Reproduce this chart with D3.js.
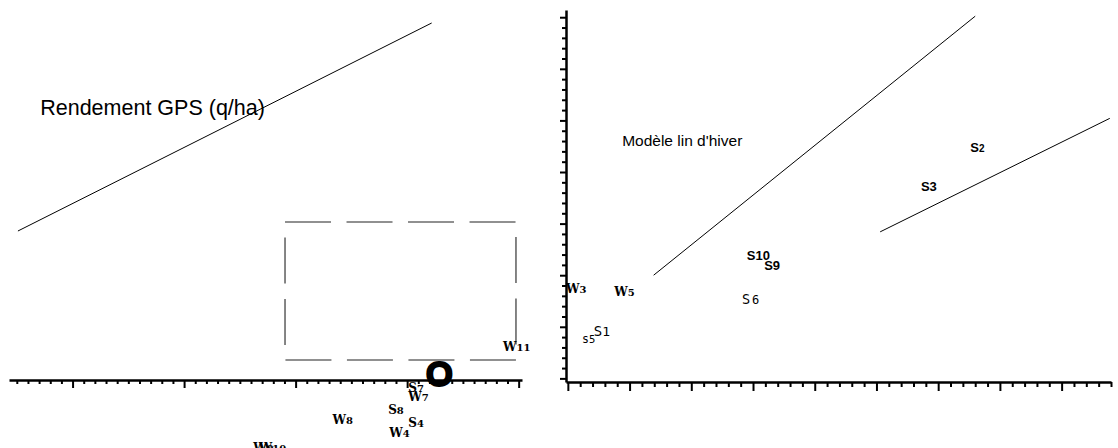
<!DOCTYPE html>
<html><head><meta charset="utf-8">
<script src="https://cdn.jsdelivr.net/npm/d3@7"></script>
<style>html,body{margin:0;padding:0;background:#fff;}svg{display:block;}</style>
</head><body>
<svg id="c" width="1118" height="448"></svg>
<script>
// ---------- data ----------
// left panel (units along the left axis; vertical units arbitrary)
const leftLabels = ["W11","S7","W7","S8","W8","S4","W4","W9","W10"];
const leftX      = [38.6, 30.1, 30.1, 28.3, 23.3, 30.1, 28.4, 16.2, 16.7];
const leftY      = [2.9, -1.2, -2.1, -3.4, -4.4, -4.7, -5.7, -7.2, -7.2];
const originLabel = "O";
const originXY = [32.9, -0.6];
const leftTitle = "Rendement GPS (q/ha)";
const leftTitleXY = [-2.9, 26.5];
const leftLineX = [-4.9, 32.2];
const leftLineY = [14.9, 35.7];
const boxX = [19.05, 39.76];
const boxY = [2.0, 15.8];
const leftAxisDomain = [-5.7, 40.3];
const leftTicks = d3.range(-5, 41, 1);
const leftMajor = [0, 10, 20, 30, 40];

// right panel
const rightLabels = ["W3","W5","S1","S5","S6","S10","S9","S3","S2"];
const rightX      = [-0.3, 7.5, 4.2, 2.3, 28.2, 29.0, 31.8, 57.2, 65.2];
const rightY      = [16.6, 16.0, 8.2, 6.9, 14.4, 23.0, 21.0, 36.3, 43.9];
const rightTitle = "Modèle lin d'hiver";
const rightTitleXY = [8.8, 45.0];
const winterLineX = [13.9, 66.0];
const winterLineY = [20.0, 70.2];
const springLineX = [50.6, 87.8];
const springLineY = [28.4, 50.4];
const rightXDomain = [-0.3, 88];
const rightYDomain = [-0.7, 71.4];
const rightXTicks = d3.range(0, 89, 2);
const rightXMajor = d3.range(0, 81, 10);
const rightYTicks = d3.range(0, 71, 2);
const rightYMajor = d3.range(0, 71, 10);

// ---------- styles ----------
const styleOf = {
  W11:"serif",S7:"serif",W7:"serif",S8:"serif",W8:"serif",S4:"serif",W4:"serif",W9:"serif",W10:"serif",
  W3:"serif",W5:"serif",S1:"dv",S5:"dvs",S6:"dvgap",S10:"sb",S9:"sb",S3:"sb",S2:"sbs"
};

const svg = d3.select("#c");

// scales
const xL = d3.scaleLinear().domain(leftAxisDomain).range([9, 522]);
const yL = d3.scaleLinear().domain([0, 36]).range([380, 20]);
const xR = d3.scaleLinear().domain(rightXDomain).range([566, 1111]);
const yR = d3.scaleLinear().domain(rightYDomain).range([382, 10]);

function axisStyle(g, w) {
  g.select(".domain").attr("stroke", "#000").attr("stroke-width", w);
  g.selectAll(".tick line").attr("stroke", "#000").attr("stroke-width", 2);
  g.selectAll(".tick text").remove();
}

// left axis
svg.append("g").attr("transform", `translate(0,${yL(0)})`)
  .call(d3.axisBottom(xL).tickValues(leftTicks.filter(t => !leftMajor.includes(t))).tickSize(4).tickSizeOuter(0).tickFormat(""))
  .call(g => axisStyle(g, 2.5));
svg.append("g").attr("transform", `translate(0,${yL(0)})`)
  .call(d3.axisBottom(xL).tickValues(leftMajor).tickSize(8).tickSizeOuter(0).tickFormat(""))
  .call(g => { g.select(".domain").remove(); axisStyle(g, 2); });

// right axes
svg.append("g").attr("transform", `translate(0,${yR(rightYDomain[0])})`)
  .call(d3.axisBottom(xR).tickValues(rightXTicks.filter(t => !rightXMajor.includes(t))).tickSize(5).tickSizeOuter(0).tickFormat(""))
  .call(g => axisStyle(g, 2.5));
svg.append("g").attr("transform", `translate(0,${yR(rightYDomain[0])})`)
  .call(d3.axisBottom(xR).tickValues(rightXMajor).tickSize(9).tickSizeOuter(0).tickFormat(""))
  .call(g => { g.select(".domain").remove(); axisStyle(g, 2); });
svg.append("g").attr("transform", `translate(${xR(rightXDomain[0])},0)`)
  .call(d3.axisLeft(yR).tickValues(rightYTicks.filter(t => !rightYMajor.includes(t))).tickSize(4).tickSizeOuter(0).tickFormat(""))
  .call(g => axisStyle(g, 2.5));
svg.append("g").attr("transform", `translate(${xR(rightXDomain[0])},0)`)
  .call(d3.axisLeft(yR).tickValues(rightYMajor).tickSize(6).tickSizeOuter(0).tickFormat(""))
  .call(g => { g.select(".domain").remove(); axisStyle(g, 2); });

// lines
const line = d3.line();
svg.append("path").attr("d", line([[xL(leftLineX[0]), yL(leftLineY[0])],[xL(leftLineX[1]), yL(leftLineY[1])]]))
  .attr("stroke", "#000").attr("stroke-width", 1).attr("fill", "none");
svg.append("path").attr("d", line([[xR(winterLineX[0]), yR(winterLineY[0])],[xR(winterLineX[1]), yR(winterLineY[1])]]))
  .attr("stroke", "#000").attr("stroke-width", 1).attr("fill", "none");
svg.append("path").attr("d", line([[xR(springLineX[0]), yR(springLineY[0])],[xR(springLineX[1]), yR(springLineY[1])]]))
  .attr("stroke", "#000").attr("stroke-width", 1).attr("fill", "none");

// dashed box (clockwise from top-left)
const bx0 = xL(boxX[0]), bx1 = xL(boxX[1]), by0 = yL(boxY[1]), by1 = yL(boxY[0]);
svg.append("path").attr("d", line([[bx0,by0],[bx1,by0],[bx1,by1],[bx0,by1]]) + "Z")
  .attr("stroke", "#222").attr("stroke-width", 1.1).attr("fill", "none")
  .attr("stroke-dasharray", "46 15.5");

// titles
svg.append("text").attr("x", xL(leftTitleXY[0])).attr("y", yL(leftTitleXY[1]))
  .attr("font-family", "Liberation Sans, Arial, sans-serif").attr("font-size", 21.5).attr("fill", "#000").text(leftTitle);
svg.append("text").attr("x", xR(rightTitleXY[0])).attr("y", yR(rightTitleXY[1]))
  .attr("font-family", "Liberation Sans, Arial, sans-serif").attr("font-size", 15.5).attr("fill", "#000").text(rightTitle);

// origin mark
svg.append("text").attr("x", xL(originXY[0])).attr("y", yL(originXY[1]))
  .attr("text-anchor", "middle").attr("font-family", "Liberation Sans, Arial, sans-serif")
  .attr("font-weight", "bold").attr("font-size", 35).attr("fill", "#000")
  .attr("stroke", "#000").attr("stroke-width", 1.8).attr("stroke-linejoin", "round").text(originLabel);

// point labels
function drawLabel(name, px, py) {
  const st = styleOf[name];
  const letter = name[0], digits = name.slice(1);
  const t = svg.append("text").attr("x", px).attr("y", py).attr("fill", "#000");
  if (st === "serif") {
    t.attr("font-family", "DejaVu Serif, serif").attr("font-weight", "bold");
    t.append("tspan").attr("font-size", 12).text(letter);
    t.append("tspan").attr("font-size", 10).text(digits);
  } else if (st === "dv") {
    t.attr("font-family", "DejaVu Sans Mono, monospace");
    t.append("tspan").attr("font-size", 14).text(letter);
    t.append("tspan").attr("font-size", 13).text(digits);
  } else if (st === "dvs") {
    t.attr("font-family", "DejaVu Sans Mono, monospace");
    t.append("tspan").attr("font-size", 11.5).text(letter.toLowerCase());
    t.append("tspan").attr("font-size", 10.5).text(digits);
  } else if (st === "dvgap") {
    t.attr("font-family", "DejaVu Sans Mono, monospace");
    t.append("tspan").attr("font-size", 13.5).text(letter);
    t.append("tspan").attr("font-size", 12).attr("dx", 2).text(digits);
  } else if (st === "sb") {
    t.attr("font-family", "Liberation Sans, Arial, sans-serif").attr("font-weight", "bold").attr("font-size", 13).text(name);
  } else if (st === "sbs") {
    t.attr("font-family", "Liberation Sans, Arial, sans-serif").attr("font-weight", "bold");
    t.append("tspan").attr("font-size", 13).text(letter);
    t.append("tspan").attr("font-size", 10).text(digits);
  }
}
leftLabels.forEach((n, i) => drawLabel(n, xL(leftX[i]), yL(leftY[i])));
rightLabels.forEach((n, i) => drawLabel(n, xR(rightX[i]), yR(rightY[i])));
</script>
</body></html>
